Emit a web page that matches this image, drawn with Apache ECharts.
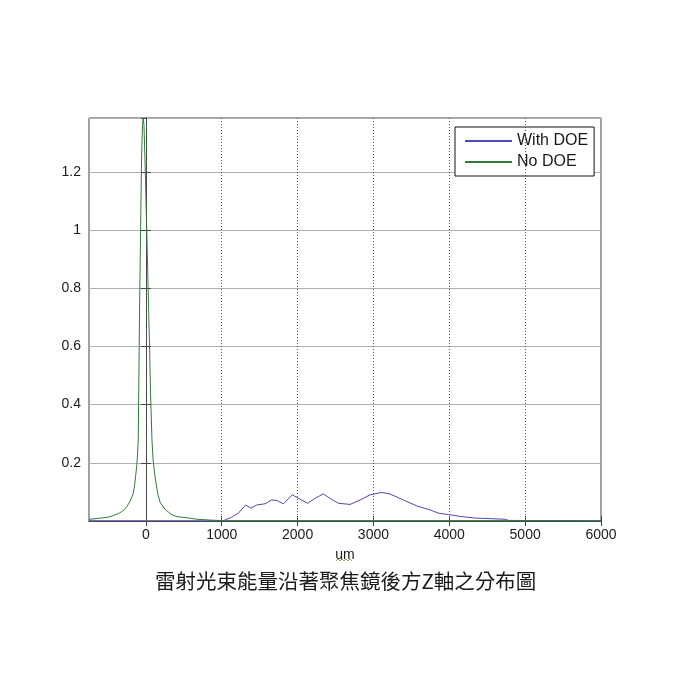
<!DOCTYPE html>
<html>
<head>
<meta charset="utf-8">
<script src="https://cdn.jsdelivr.net/npm/echarts@6/dist/echarts.min.js"></script>
<style>html,body{margin:0;padding:0;background:#fff}#c{width:700px;height:700px}</style>
</head>
<body>
<div id="c"></div>
<script>
// ---- data ----
const seriesNames = ['With DOE', 'No DOE'];
const xTicks = [0, 1000, 2000, 3000, 4000, 5000, 6000];
const yTicks = [0.2, 0.4, 0.6, 0.8, 1, 1.2];

const xWith = [-750, 1000, 1040, 1130, 1218, 1315, 1385, 1460, 1570, 1658, 1724, 1812, 1931, 2032, 2133, 2230, 2339, 2427, 2537, 2691, 2823, 2955, 3109, 3219, 3395, 3571, 3747, 3856, 3988, 4165, 4340, 4560, 4736, 4780, 4800, 6000];
const yWith = [0, 0, 0.003, 0.013, 0.027, 0.055, 0.044, 0.055, 0.059, 0.072, 0.071, 0.059, 0.090, 0.075, 0.061, 0.078, 0.093, 0.078, 0.061, 0.057, 0.072, 0.090, 0.098, 0.093, 0.072, 0.052, 0.038, 0.027, 0.022, 0.015, 0.010, 0.008, 0.006, 0.002, 0, 0];

const xNo = [-750, -700, -630, -560, -500, -450, -410, -360, -320, -280, -255, -230, -211, -190, -167, -150, -136, -120, -110, -101, -92, -83, -70, -57, -45, -35, -25, -13, -5, 10, 25, 36, 50, 60, 80, 95, 120, 155, 190, 255, 300, 345, 400, 470, 540, 600, 670, 750, 850, 950, 1050, 2000, 3000, 4000, 5000, 6000];
const yNo = [0.006, 0.007, 0.009, 0.011, 0.013, 0.017, 0.021, 0.026, 0.032, 0.040, 0.049, 0.058, 0.067, 0.080, 0.095, 0.120, 0.153, 0.190, 0.230, 0.280, 0.500, 0.730, 1.000, 1.250, 1.360, 1.385, 1.360, 1.250, 1.170, 1.010, 0.850, 0.730, 0.580, 0.450, 0.280, 0.210, 0.153, 0.095, 0.062, 0.040, 0.030, 0.021, 0.016, 0.013, 0.011, 0.009, 0.006, 0.005, 0.003, 0.002, 0.001, 0.001, 0.001, 0.001, 0.001, 0.001];

const xMin = -750, xMax = 6000, yMin = 0, yMax = 1.385;
const xName = 'um';
const titleText = '雷射光束能量沿著聚焦鏡後方Z軸之分布圖';

// ---- chart ----
const pairs = (xs, ys) => xs.map((x, i) => [x, ys[i]]);
const chart = echarts.init(document.getElementById('c'), null, {renderer: 'canvas'});
const axisColor = '#444';
const labelFont = {fontFamily: 'Liberation Sans, Arial, sans-serif', fontSize: 14, color: '#1a1a1a'};

chart.setOption({
  backgroundColor: '#fff',
  animation: false,
  title: {
    text: titleText, left: 150, top: 566,
    textStyle: {fontFamily: 'Noto Sans CJK TC', fontWeight: 'normal', fontSize: 20.5, color: '#1a1a1a'}
  },
  legend: {
    data: seriesNames, orient: 'vertical', left: 455, top: 127,
    backgroundColor: '#fff', borderColor: '#111', borderWidth: 1, borderRadius: 0,
    padding: [6, 6, 6, 10], itemGap: 5, itemWidth: 47, itemHeight: 2,
    icon: 'rect',
    textStyle: Object.assign({}, labelFont, {fontSize: 16})
  },
  grid: {left: 89, right: 99, top: 118, bottom: 179, show: true, borderColor: axisColor, borderWidth: 1, backgroundColor: '#fff'},
  xAxis: [{
    type: 'value', min: xMin, max: xMax, position: 'bottom',
    name: xName, nameLocation: 'middle', nameGap: 27,
    nameTextStyle: Object.assign({}, labelFont, {fontSize: 14}),
    axisLine: {show: true, lineStyle: {color: axisColor}},
    axisTick: {show: true, inside: true, length: 5, customValues: xTicks, lineStyle: {color: axisColor}},
    axisLabel: Object.assign({customValues: xTicks, margin: 7, formatter: v => String(v)}, labelFont),
    splitLine: {show: false}
  }, {
    type: 'value', min: xMin, max: xMax, position: 'top',
    axisLine: {show: true, lineStyle: {color: axisColor}},
    axisTick: {show: true, inside: true, length: 5, customValues: xTicks, lineStyle: {color: axisColor}},
    axisLabel: {show: false}, splitLine: {show: false}
  }],
  yAxis: [{
    type: 'value', min: yMin, max: yMax, interval: 0.2, position: 'left',
    axisLine: {show: true, lineStyle: {color: axisColor}},
    axisTick: {show: true, inside: true, length: 5, lineStyle: {color: axisColor}},
    axisLabel: Object.assign({showMinLabel: false, showMaxLabel: false, margin: 8, formatter: v => String(Math.round(v * 10) / 10)}, labelFont),
    splitLine: {show: true, lineStyle: {color: '#b0b0b0', width: 1}}
  }, {
    type: 'value', min: yMin, max: yMax, interval: 0.2, position: 'right',
    axisLine: {show: true, lineStyle: {color: axisColor}},
    axisTick: {show: true, inside: true, length: 5, lineStyle: {color: axisColor}},
    axisLabel: {show: false}, splitLine: {show: false}
  }],
  graphic: [{
    type: 'polyline', silent: true,
    shape: {points: [[336,561],[338,559],[340,561],[342,559],[344,561],[346,559],[348,561],[350,559],[352,561]]},
    style: {stroke: '#8aa878', lineWidth: 1, fill: null}
  }],
  series: [{
    name: seriesNames[0], type: 'line', xAxisIndex: 0, yAxisIndex: 0,
    data: pairs(xWith, yWith), showSymbol: false, symbol: 'none',
    lineStyle: {color: '#4a4ab2', width: 1}, itemStyle: {color: '#4a4ab2'},
    markLine: {
      silent: true, symbol: 'none', label: {show: false},
      lineStyle: {color: '#555', type: [1, 2], width: 1},
      data: xTicks.filter(v => v > xMin && v < xMax).map(v => ({xAxis: v}))
    },
    z: 2
  }, {
    name: seriesNames[1], type: 'line', xAxisIndex: 0, yAxisIndex: 0,
    data: pairs(xNo, yNo), showSymbol: false, symbol: 'none',
    lineStyle: {color: '#2f7a36', width: 1}, itemStyle: {color: '#2f7a36'},
    z: 3
  }]
});
</script>
</body>
</html>
